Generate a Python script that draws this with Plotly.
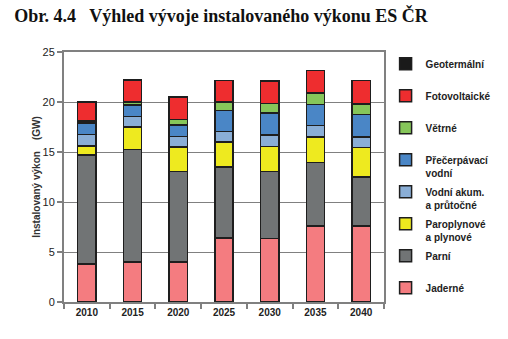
import plotly.graph_objects as go

years = ["2010", "2015", "2020", "2025", "2030", "2035", "2040"]

jaderne = [3.8, 4.0, 4.0, 6.4, 6.35, 7.6, 7.6]
parni = [10.9, 11.25, 9.05, 7.1, 6.7, 6.35, 4.9]
paroplynove = [0.9, 2.25, 2.45, 2.5, 2.5, 2.55, 2.95]
vodni_akum = [1.15, 1.05, 1.05, 1.05, 1.15, 1.15, 1.05]
precerpavaci = [1.15, 1.15, 1.15, 2.1, 2.2, 2.1, 2.25]
vetrne = [0.2, 0.3, 0.55, 0.85, 0.95, 1.15, 1.05]
fotovoltaicke = [1.9, 2.2, 2.25, 2.15, 2.25, 2.25, 2.35]
geotermalni = [0.0, 0.0, 0.0, 0.0, 0.0, 0.0, 0.0]

series = [
    ("<b>Jaderné</b><br>\u00a0", jaderne, "#F47C80"),
    ("<b>Parní</b><br>\u00a0", parni, "#717475"),
    ("<b>Paroplynové</b><br><b>a plynové</b>", paroplynove, "#EEEA1F"),
    ("<b>Vodní akum.</b><br><b>a průtočné</b>", vodni_akum, "#8AAED6"),
    ("<b>Přečerpávací</b><br><b>vodní</b>", precerpavaci, "#4A86C6"),
    ("<b>Větrné</b><br>\u00a0", vetrne, "#86C65A"),
    ("<b>Fotovoltaické</b><br>\u00a0", fotovoltaicke, "#EE2D2F"),
    ("<b>Geotermální</b><br>\u00a0", geotermalni, "#1A1A1A"),
]

fig = go.Figure()
n = len(series)
for i, (name, vals, color) in enumerate(series):
    fig.add_trace(go.Bar(
        x=years, y=vals, name=name, legendgroup=str(i), legendrank=n - i,
        marker=dict(color=color, line=dict(color="#1E1E1E", width=1.5)),
        width=0.4,
    ))

fig.update_layout(
    barmode="stack",
    width=508, height=339,
    margin=dict(l=64, r=106, t=52, b=37),
    paper_bgcolor="white", plot_bgcolor="white",
    font=dict(family="Arial, Liberation Sans, sans-serif", color="#222222"),
    title=dict(
        text="<b>Obr. 4.4   Výhled vývoje instalovaného výkonu ES ČR</b>",
        font=dict(family="Liberation Serif, Times New Roman, serif", size=18, color="#111111"),
        x=0.028, xanchor="left", y=0.955, yanchor="middle",
    ),
    legend=dict(
        x=1.005, xanchor="left", y=1.005, yanchor="top",
        traceorder="grouped", tracegroupgap=3, valign="top",
        font=dict(size=10, color="#222222", family="Arial, Liberation Sans, sans-serif"),
        itemwidth=30, maxheight=400,
    ),
    showlegend=True,
)

fig.update_xaxes(
    type="category", showline=True, linecolor="#808080", linewidth=2, mirror=True,
    ticks="outside", tickson="boundaries", ticklen=5, tickcolor="#808080", tickwidth=1.5,
    tickfont=dict(size=10, color="#222222"), tickprefix="<b>", ticksuffix="</b>",
    showgrid=False,
)
fig.update_yaxes(
    range=[0, 25], dtick=5, showline=True, linecolor="#808080", linewidth=2, mirror=True,
    ticks="outside", ticklen=5, tickcolor="#808080", tickwidth=1.5,
    showgrid=True, gridcolor="#808080", gridwidth=1.2,
    tickfont=dict(size=11, color="#222222"),
    title=dict(text="<b>Instalovaný výkon    (GW)</b>", font=dict(size=10, color="#333333"), standoff=0),
)

fig.write_html("out.html")
